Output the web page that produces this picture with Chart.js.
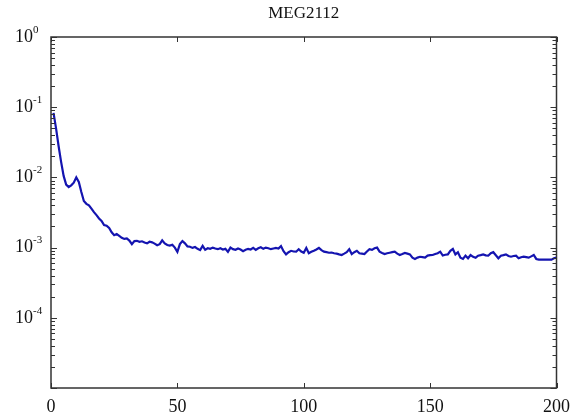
<!DOCTYPE html>
<html>
<head>
<meta charset="utf-8">
<script src="https://cdn.jsdelivr.net/npm/chart.js@4/dist/chart.umd.min.js"></script>
<style>
  html, body { margin: 0; padding: 0; background: #fff; }
  #wrap { width: 578px; height: 419px; }
</style>
</head>
<body>
<div id="wrap"><canvas id="megChart"></canvas></div>
<script>
const chartTitle = 'MEG2112';

// valores (amostra 1..200)
const power = [
  8.3e-2, 5.0e-2, 2.8e-2, 1.66e-2, 1.05e-2, 7.9e-3, 7.3e-3, 7.7e-3, 8.4e-3, 1.0e-2,
  8.6e-3, 6.2e-3, 4.6e-3, 4.2e-3, 4.0e-3, 3.6e-3, 3.2e-3, 2.9e-3, 2.6e-3, 2.4e-3,
  2.1e-3, 2.05e-3, 1.9e-3, 1.65e-3, 1.5e-3, 1.56e-3, 1.47e-3, 1.38e-3, 1.33e-3, 1.35e-3,
  1.26e-3, 1.12e-3, 1.24e-3, 1.25e-3, 1.21e-3, 1.23e-3, 1.18e-3, 1.15e-3, 1.21e-3, 1.19e-3,
  1.14e-3, 1.08e-3, 1.12e-3, 1.27e-3, 1.15e-3, 1.09e-3, 1.07e-3, 1.10e-3, 1.0e-3, 0.87e-3,
  1.12e-3, 1.24e-3, 1.15e-3, 1.04e-3, 1.03e-3, 0.99e-3, 1.02e-3, 0.96e-3, 0.92e-3, 1.06e-3,
  0.93e-3, 0.98e-3, 0.96e-3, 1.0e-3, 0.97e-3, 0.95e-3, 0.98e-3, 0.94e-3, 0.96e-3, 0.87e-3,
  1.0e-3, 0.95e-3, 0.93e-3, 0.97e-3, 0.94e-3, 0.89e-3, 0.93e-3, 0.96e-3, 0.94e-3, 0.99e-3,
  0.93e-3, 0.98e-3, 1.01e-3, 0.96e-3, 1.0e-3, 0.98e-3, 0.95e-3, 0.97e-3, 0.99e-3, 0.97e-3,
  1.05e-3, 0.89e-3, 0.80e-3, 0.86e-3, 0.90e-3, 0.88e-3, 0.875e-3, 0.95e-3, 0.88e-3, 0.845e-3,
  0.99e-3, 0.83e-3, 0.87e-3, 0.90e-3, 0.94e-3, 0.99e-3, 0.92e-3, 0.875e-3, 0.86e-3, 0.845e-3,
  0.85e-3, 0.83e-3, 0.82e-3, 0.80e-3, 0.785e-3, 0.82e-3, 0.86e-3, 0.95e-3, 0.81e-3, 0.86e-3,
  0.90e-3, 0.83e-3, 0.82e-3, 0.81e-3, 0.88e-3, 0.95e-3, 0.93e-3, 0.98e-3, 1.0e-3, 0.875e-3,
  0.84e-3, 0.81e-3, 0.83e-3, 0.845e-3, 0.86e-3, 0.875e-3, 0.82e-3, 0.785e-3, 0.81e-3, 0.84e-3,
  0.82e-3, 0.80e-3, 0.72e-3, 0.69e-3, 0.72e-3, 0.74e-3, 0.73e-3, 0.72e-3, 0.77e-3, 0.78e-3,
  0.785e-3, 0.81e-3, 0.83e-3, 0.875e-3, 0.77e-3, 0.79e-3, 0.80e-3, 0.90e-3, 0.955e-3, 0.80e-3,
  0.86e-3, 0.72e-3, 0.69e-3, 0.767e-3, 0.705e-3, 0.785e-3, 0.74e-3, 0.718e-3, 0.767e-3, 0.78e-3,
  0.80e-3, 0.775e-3, 0.767e-3, 0.83e-3, 0.86e-3, 0.78e-3, 0.705e-3, 0.767e-3, 0.78e-3, 0.80e-3,
  0.76e-3, 0.742e-3, 0.76e-3, 0.767e-3, 0.705e-3, 0.73e-3, 0.742e-3, 0.73e-3, 0.718e-3, 0.75e-3,
  0.785e-3, 0.689e-3, 0.673e-3, 0.673e-3, 0.673e-3, 0.673e-3, 0.673e-3, 0.673e-3, 0.705e-3, 0.72e-3
];
const sampleIndex = power.map((_, i) => i + 1);

const xTicks = [0, 50, 100, 150, 200];
const yDecadeExponents = [0, -1, -2, -3, -4, -5];
const yLabelExponents = [0, -1, -2, -3, -4];

// moldura estilo MATLAB com marcas para dentro e rótulos 10^n
const matlabFrame = {
  id: 'matlabFrame',
  afterDraw(chart) {
    const { ctx, chartArea: a, scales: { x, y } } = chart;
    const seg = (x1, y1, x2, y2) => {
      ctx.beginPath();
      ctx.moveTo(x1, y1);
      ctx.lineTo(x2, y2);
      ctx.stroke();
    };
    ctx.save();
    ctx.strokeStyle = '#333';
    ctx.lineWidth = 1;

    xTicks.forEach(v => {
      const px = Math.round(x.getPixelForValue(v)) + 0.5;
      seg(px, a.bottom, px, a.bottom - 5);
      seg(px, a.top, px, a.top + 5);
    });

    yDecadeExponents.forEach(e => {
      const py = Math.round(y.getPixelForValue(Math.pow(10, e))) + 0.5;
      seg(a.left, py, a.left + 6, py);
      seg(a.right, py, a.right - 6, py);
      if (e > -5) {
        for (let m = 2; m <= 9; m++) {
          const my = Math.round(y.getPixelForValue(m * Math.pow(10, e - 1))) + 0.5;
          seg(a.left, my, a.left + 4, my);
          seg(a.right, my, a.right - 4, my);
        }
      }
    });

    ctx.lineWidth = 1.5;
    ctx.strokeRect(a.left, a.top, a.right - a.left, a.bottom - a.top);

    ctx.fillStyle = '#111';
    ctx.textBaseline = 'middle';
    yLabelExponents.forEach(e => {
      const py = y.getPixelForValue(Math.pow(10, e));
      ctx.font = '18px "Liberation Serif"';
      ctx.textAlign = 'right';
      ctx.fillText('10', 33, py);
      ctx.font = '11px "Liberation Serif"';
      ctx.textAlign = 'left';
      ctx.fillText(String(e), 33, py - 7);
    });
    ctx.restore();
  }
};

new Chart(document.getElementById('megChart'), {
  type: 'line',
  data: {
    datasets: [{
      data: sampleIndex.map((v, i) => ({ x: v, y: power[i] })),
      borderColor: '#1414b0',
      borderWidth: 2.2,
      pointRadius: 0,
      tension: 0
    }]
  },
  options: {
    responsive: true,
    maintainAspectRatio: false,
    animation: false,
    layout: { padding: { left: 0, right: 20, top: 0, bottom: 0 } },
    plugins: {
      legend: { display: false },
      tooltip: { enabled: false },
      title: {
        display: true,
        text: chartTitle,
        fullSize: false,
        color: '#111',
        font: { family: 'Liberation Serif', size: 17, weight: 'normal', lineHeight: 1.2 },
        padding: { top: 3, bottom: 13.6 }
      }
    },
    scales: {
      x: {
        type: 'linear',
        min: 0,
        max: 200,
        grid: { display: false, drawTicks: false },
        border: { display: false },
        ticks: {
          stepSize: 50,
          padding: 8,
          color: '#111',
          maxRotation: 0,
          font: { family: 'Liberation Serif', size: 18 }
        },
        afterFit(scale) { scale.height = 31; }
      },
      y: {
        type: 'logarithmic',
        min: 1e-5,
        max: 1,
        grid: { display: false, drawTicks: false },
        border: { display: false },
        ticks: { display: false },
        afterFit(scale) { scale.width = 51; }
      }
    }
  },
  plugins: [matlabFrame]
});
</script>
</body>
</html>
